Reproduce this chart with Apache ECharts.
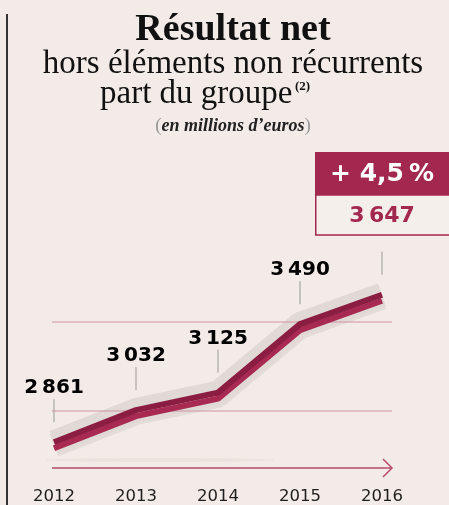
<!DOCTYPE html>
<html>
<head>
<meta charset="utf-8">
<script src="https://cdn.jsdelivr.net/npm/echarts@6/dist/echarts.min.js"></script>
<style>
  html, body { margin: 0; padding: 0; background: #f3ebe7; }
  #main { width: 449px; height: 505px; }
</style>
</head>
<body>
<div id="main"></div>
<script>
// données
var years = ['2012', '2013', '2014', '2015', '2016'];
var values = [2861, 3032, 3125, 3490, 3647];

var crimson = '#a3284f';
var fmt = function (v) {
  return String(v).replace(/\B(?=(\d{3})+(?!\d))/g, '\u202F');
};
// variation sur la dernière année
var last = values[values.length - 1];
var growth = ((last / values[values.length - 2] - 1) * 100).toFixed(1).replace('.', ',');

var chart = echarts.init(document.getElementById('main'), null, { renderer: 'canvas' });

var option = {
  backgroundColor: '#f3ebe7',
  animation: false,
  grid: { left: 54, right: 67, top: 266, bottom: 40 },
  xAxis: {
    type: 'category',
    data: years,
    boundaryGap: false,
    axisLine: { show: false },
    axisTick: { show: false },
    axisLabel: {
      margin: 25,
      fontFamily: 'DejaVu Sans',
      fontSize: 16.5,
      color: '#1e1e1e'
    }
  },
  yAxis: {
    type: 'value',
    min: 2750,
    max: 3800,
    show: false,
    splitLine: { show: false }
  },
  series: [
    {
      // halo gris
      type: 'line',
      data: values,
      symbol: 'none',
      silent: true,
      z: 1,
      lineStyle: {
        width: 24, color: '#e0d9d6', cap: 'butt', join: 'bevel',
        shadowColor: '#e3dcd9', shadowOffsetY: 3, shadowBlur: 0
      }
    },
    {
      // ruban + étiquettes
      type: 'line',
      data: values,
      showSymbol: true,
      symbol: 'circle',
      symbolSize: 0.1,
      itemStyle: { color: '#8b1d43' },
      silent: true,
      z: 3,
      lineStyle: {
        width: 6, color: '#8b1d43', cap: 'butt', join: 'bevel',
        shadowColor: '#a82a53', shadowOffsetY: 6, shadowBlur: 0
      },
      label: {
        show: true,
        position: 'top',
        distance: 44,
        fontFamily: 'DejaVu Sans',
        fontWeight: 'bold',
        fontSize: 20,
        color: '#000',
        formatter: function (p) {
          return p.dataIndex < values.length - 1 ? fmt(p.value) : '';
        }
      }
    },
    {
      // petits traits
      type: 'custom',
      data: values.map(function (v, i) { return [i, v]; }),
      silent: true,
      z: 4,
      renderItem: function (params, api) {
        var p = api.coord([api.value(0), api.value(1)]);
        return {
          type: 'line',
          shape: { x1: p[0], y1: p[1] - 20, x2: p[0], y2: p[1] - 43 },
          style: { stroke: '#999', lineWidth: 1 }
        };
      }
    }
  ],
  graphic: [
    { type: 'line', shape: { x1: 7, y1: 14, x2: 7, y2: 505 }, style: { stroke: '#333', lineWidth: 2 } },
    {
      type: 'text', x: 233, y: 30,
      style: { text: 'Résultat net', font: 'bold 38px "Liberation Serif"', fill: '#111', align: 'center', verticalAlign: 'middle' }
    },
    {
      type: 'text', x: 233, y: 64,
      style: { text: 'hors éléments non récurrents', font: '33px "Liberation Serif"', fill: '#111', align: 'center', verticalAlign: 'middle' }
    },
    {
      type: 'text', x: 100, y: 94,
      style: { text: 'part du groupe', font: '33px "Liberation Serif"', fill: '#111', align: 'left', verticalAlign: 'middle' }
    },
    {
      type: 'text', x: 295, y: 87,
      style: { text: '(2)', font: 'bold 13px "Liberation Serif"', fill: '#111', align: 'left', verticalAlign: 'middle' }
    },
    {
      type: 'text', x: 233, y: 126,
      style: {
        text: '{p|(}{t|en millions d’euros}{p|)}',
        align: 'center', verticalAlign: 'middle',
        rich: {
          p: { font: '19px "Liberation Serif"', fill: '#999' },
          t: { font: 'italic bold 18px "Liberation Serif"', fill: '#222' }
        }
      }
    },
    // encadré
    { type: 'rect', shape: { x: 315, y: 152, width: 134, height: 43 }, style: { fill: crimson } },
    { type: 'rect', shape: { x: 315.75, y: 195, width: 140, height: 40 }, style: { fill: '#f5efec', stroke: crimson, lineWidth: 1.5 } },
    {
      type: 'text', x: 382, y: 174,
      style: { text: '+ ' + growth + '\u202F%', font: 'bold 25px "DejaVu Sans"', fill: '#fff', align: 'center', verticalAlign: 'middle' }
    },
    {
      type: 'text', x: 382, y: 216,
      style: { text: fmt(last), font: 'bold 22px "DejaVu Sans"', fill: crimson, align: 'center', verticalAlign: 'middle' }
    },
    // filets
    { type: 'line', z: 2, shape: { x1: 52, y1: 322, x2: 392, y2: 322 }, style: { stroke: '#cf93a3', lineWidth: 1.2 } },
    { type: 'line', z: 2, shape: { x1: 52, y1: 411, x2: 392, y2: 411 }, style: { stroke: '#cf93a3', lineWidth: 1.2 } },
    { type: 'ellipse', z: 0, shape: { cx: 160, cy: 460, rx: 115, ry: 2 }, style: { fill: 'rgba(150,130,130,0.07)', shadowBlur: 6, shadowColor: 'rgba(150,130,130,0.18)' } },
    // flèche
    { type: 'line', shape: { x1: 52, y1: 468, x2: 392, y2: 468 }, style: { stroke: '#b84a6c', lineWidth: 1.5 } },
    { type: 'polyline', shape: { points: [[383, 459], [392, 468], [383, 477]] }, style: { stroke: '#b84a6c', lineWidth: 1.5, fill: null } }
  ]
};

chart.setOption(option);
</script>
</body>
</html>
